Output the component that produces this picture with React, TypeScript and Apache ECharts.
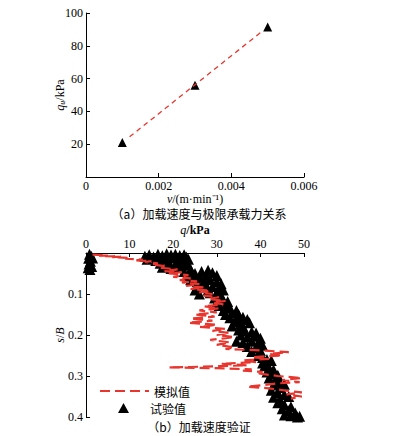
import React, { useEffect, useRef } from "react";
import * as echarts from "echarts";

// (a) loading velocity vs. ultimate bearing capacity
const vValues = [0.001, 0.003, 0.005];
const quValues = [21, 56, 91.5];
const fitV = [0.0012, 0.0048];
const fitQu = [24.5, 88];

// (b) verification: [q (kPa), s/B]
const testPoints: number[][] = [
  [0.8, 0.003], [1.2, 0.008], [0.6, 0.013], [1.0, 0.02], [0.7, 0.027], [1.3, 0.033], [0.9, 0.04], [1.5, 0.012], [0.5, 0.036],
  [13.5, 0.008], [14.5, 0.004], [15.5, 0.01], [16.5, 0.003], [17.5, 0.007], [18.5, 0.002], [19.5, 0.005], [20.5, 0.003],
  [21.5, 0.006], [22.5, 0.004], [23, 0.01], [14, 0.015], [16, 0.018], [18, 0.014], [20, 0.012], [22, 0.016], [17, 0.025],
  [19, 0.022], [21, 0.02], [23.5, 0.015], [18.5, 0.03], [20.5, 0.028], [22.5, 0.025], [17.5, 0.035], [19.5, 0.038],
  [21.5, 0.034], [23.5, 0.03],
  [22.5, 0.045], [24, 0.04], [25, 0.05], [26.5, 0.045], [28, 0.042], [29, 0.048], [23.5, 0.055], [26, 0.058], [27.5, 0.055],
  [30, 0.055], [24.5, 0.06],
  [24, 0.065], [25.5, 0.07], [27, 0.068], [28.5, 0.065], [30, 0.07], [31, 0.075], [26, 0.08], [27.5, 0.078], [29, 0.082],
  [30.5, 0.085], [25, 0.09], [28, 0.09], [31.5, 0.09],
  [26, 0.1], [28.5, 0.097], [30, 0.1], [31, 0.105], [29.5, 0.11], [31.5, 0.115], [30, 0.12], [32.5, 0.118],
  [30.5, 0.128], [32, 0.13], [33, 0.135], [31.5, 0.14], [33.5, 0.145], [34.5, 0.14], [32, 0.15], [35, 0.15],
  [33, 0.158], [34.5, 0.16], [36, 0.157], [37, 0.162], [34, 0.168], [35.5, 0.172], [37.5, 0.17], [33.5, 0.178], [36, 0.18],
  [35, 0.188], [36.5, 0.19], [38, 0.192], [39, 0.195], [35.5, 0.2], [37, 0.205], [38.5, 0.203], [40, 0.208],
  [34.5, 0.215], [36, 0.218], [38, 0.215], [39.5, 0.22], [40.5, 0.225], [37, 0.228], [39, 0.232], [40, 0.238], [38, 0.24],
  [39.5, 0.25], [40.5, 0.255], [41.5, 0.26], [42.5, 0.262], [40.5, 0.268],
  [41, 0.275], [42, 0.28], [43, 0.285], [41.5, 0.29], [42.5, 0.295], [44, 0.298],
  [42, 0.305], [43.5, 0.31], [44.5, 0.315], [45.5, 0.32], [43, 0.322], [44.5, 0.328],
  [42.5, 0.335], [44, 0.34], [45.5, 0.345], [46.5, 0.35], [43, 0.352], [44.5, 0.358],
  [44, 0.365], [45.5, 0.37], [47, 0.375], [45, 0.38], [46.5, 0.385], [48, 0.39], [45.5, 0.395], [47, 0.397], [48.5, 0.4], [49, 0.398],
];

const simPoints: number[][] = [
  [1.5, 0.004], [5, 0.006], [3, 0.007], [8, 0.009], [6, 0.01], [10, 0.012], [9, 0.014], [13, 0.016], [11, 0.018],
  [15, 0.02], [13.5, 0.022], [16.5, 0.025], [15, 0.028], [18, 0.032], [17, 0.036], [21, 0.04], [18, 0.044], [22, 0.047],
  [19, 0.05], [23.5, 0.054], [20, 0.058], [24, 0.062], [21.5, 0.066], [25.5, 0.069], [22, 0.072], [26, 0.076], [23, 0.08],
  [27, 0.084], [24, 0.088], [28.5, 0.092], [26, 0.096], [29, 0.1], [27, 0.104], [30.5, 0.108], [28, 0.112], [32, 0.117],
  [29, 0.121], [31.5, 0.125], [27, 0.13], [30.5, 0.135], [26, 0.14], [30, 0.145], [25, 0.15], [29.5, 0.155], [24, 0.16],
  [29, 0.165], [23.5, 0.17], [30, 0.175], [26, 0.18], [32, 0.185], [29, 0.19], [33, 0.195], [30, 0.2], [34, 0.205],
  [28.5, 0.212], [33, 0.218], [30, 0.224], [34, 0.23], [32, 0.234], [41, 0.238], [46.5, 0.242], [42, 0.246], [45, 0.25],
  [38, 0.254], [42, 0.258], [36, 0.262], [39, 0.266], [31, 0.27], [37, 0.274], [24, 0.278], [19, 0.279], [30, 0.281],
  [38, 0.284], [36, 0.287], [40.5, 0.29], [39, 0.293], [44, 0.3], [49.5, 0.305], [45, 0.31], [49, 0.315], [44, 0.318],
  [41, 0.322], [37, 0.326], [42, 0.33], [46, 0.336], [49.5, 0.34], [46, 0.345], [49.5, 0.35], [47, 0.355],
];

const captionA = "（a）加载速度与极限承载力关系";
const captionB = "（b）加载速度验证";
const legendNames = ["模拟值", "试验值"];

const SERIF = "'Liberation Serif', 'Times New Roman', serif";
const CJK = "'Noto Sans CJK SC', sans-serif";
const RED = "#e8352e";

export default function App() {
  const ref = useRef<HTMLDivElement>(null);
  useEffect(() => {
    if (!ref.current) return;
    const chart = echarts.init(ref.current, null, { renderer: "svg" });
    const axisCommon = {
      axisLine: { show: true, lineStyle: { color: "#000", width: 1 } },
      axisTick: { show: true, inside: true, length: 4, lineStyle: { color: "#000" } },
      splitLine: { show: false },
      axisLabel: { color: "#000", fontFamily: SERIF, fontSize: 12, margin: 3 },
      nameMoveOverlap: false,
    };
    const nameStyle = {
      color: "#000",
      fontFamily: SERIF,
      fontSize: 12,
      rich: {
        i: { fontFamily: SERIF, fontSize: 12, fontStyle: "italic", color: "#000" },
        sub: { fontFamily: SERIF, fontSize: 8, fontStyle: "italic", color: "#000", verticalAlign: "bottom", padding: [5, 0, 0, 0] },
        b: { fontFamily: SERIF, fontSize: 12, fontWeight: "bold", color: "#000" },
        t: { fontFamily: SERIF, fontSize: 12, color: "#000" },
      },
    };
    const legendCommon = {
      orient: "vertical",
      itemHeight: 10,
      textStyle: { fontFamily: CJK, fontSize: 12, color: "#000" },
    };
    chart.setOption({
      animation: false,
      backgroundColor: "#fff",
      grid: [
        { left: 86, top: 13, width: 218, height: 164 },
        { left: 86, top: 253, width: 218, height: 164 },
      ],
      xAxis: [
        {
          ...axisCommon,
          type: "value",
          gridIndex: 0,
          min: 0,
          max: 0.006,
          interval: 0.002,
          name: "{i|v}{t|/(m·min⁻¹)}",
          nameLocation: "middle",
          nameGap: 16,
          nameTextStyle: nameStyle,
          axisLabel: { ...axisCommon.axisLabel, formatter: (v: number) => (v === 0 ? "0" : v.toFixed(3)) },
        },
        {
          ...axisCommon,
          type: "value",
          gridIndex: 1,
          position: "top",
          min: 0,
          max: 50,
          interval: 10,
          name: "{i|q}{b|/kPa}",
          nameLocation: "middle",
          nameGap: 17,
          nameTextStyle: nameStyle,
        },
      ],
      yAxis: [
        {
          ...axisCommon,
          type: "value",
          gridIndex: 0,
          min: 0,
          max: 100,
          interval: 20,
          name: "{i|q}{sub|u}{t|/kPa}",
          nameLocation: "middle",
          nameGap: 20,
          nameTextStyle: nameStyle,
          axisLabel: { ...axisCommon.axisLabel, formatter: (v: number) => (v === 0 ? "" : String(v)) },
        },
        {
          ...axisCommon,
          type: "value",
          gridIndex: 1,
          inverse: true,
          min: 0,
          max: 0.4,
          interval: 0.1,
          name: "{i|s}{t|/}{i|B}",
          nameLocation: "middle",
          nameGap: 20,
          nameTextStyle: nameStyle,
          axisLabel: { ...axisCommon.axisLabel, formatter: (v: number) => (v === 0 ? "" : v.toFixed(1)) },
        },
      ],
      legend: [
        {
          ...legendCommon,
          data: [{ name: legendNames[0], itemStyle: { opacity: 0 } }],
          left: 94,
          top: 380,
          itemWidth: 49,
        },
        {
          ...legendCommon,
          data: [legendNames[1]],
          left: 113,
          top: 397,
          itemWidth: 11,
          textStyle: { ...legendCommon.textStyle, padding: [0, 0, 0, 16] },
        },
      ],
      graphic: [
        { type: "text", left: "center", top: 207, style: { text: captionA, font: `12px ${CJK}`, fill: "#000" } },
        { type: "text", left: "center", top: 420, style: { text: captionB, font: `12px ${CJK}`, fill: "#000" } },
      ],
      series: [
        {
          type: "line",
          xAxisIndex: 0,
          yAxisIndex: 0,
          data: fitV.map((v, i) => [v, fitQu[i]]),
          symbol: "none",
          lineStyle: { color: RED, width: 1.3, type: [5, 4] },
        },
        {
          type: "scatter",
          xAxisIndex: 0,
          yAxisIndex: 0,
          data: vValues.map((v, i) => [v, quValues[i]]),
          symbol: "triangle",
          symbolSize: 9,
          itemStyle: { color: "#000", opacity: 1 },
        },
        {
          name: legendNames[0],
          type: "line",
          xAxisIndex: 1,
          yAxisIndex: 1,
          data: simPoints,
          symbol: "none",
          itemStyle: { color: RED },
          lineStyle: { color: RED, width: 2.2, type: [10, 5] },
        },
        {
          name: legendNames[1],
          type: "scatter",
          xAxisIndex: 1,
          yAxisIndex: 1,
          data: testPoints,
          symbol: "triangle",
          symbolSize: 11,
          itemStyle: { color: "#000", opacity: 1 },
        },
      ],
    });
    return () => chart.dispose();
  }, []);
  return (
    <div
      ref={ref}
      style={{ position: "fixed", left: 0, top: 0, width: 398, height: 436, background: "#fff" }}
    />
  );
}
